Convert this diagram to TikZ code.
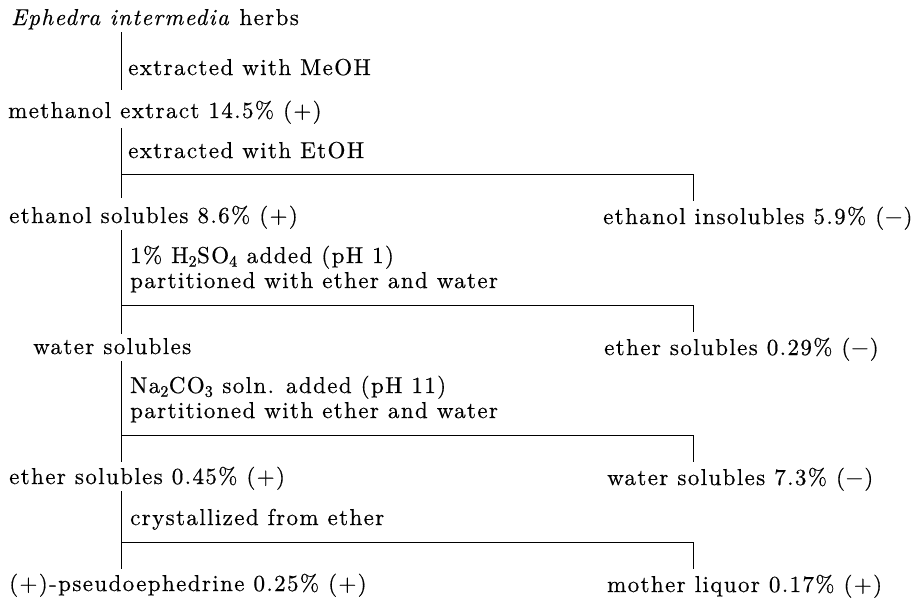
\documentclass[tikz,border=0pt]{standalone}
\usepackage{fontspec}
\setmainfont{lmroman10-regular.otf}[
  ItalicFont=lmroman10-italic.otf,
  BoldFont=lmroman10-bold.otf,
  LetterSpace=6,
  FakeBold=0.5]
\usetikzlibrary{calc}
\tikzset{
  lbl/.style={anchor=base west, inner sep=0pt, text=black,
    font=\fontsize{23}{25}\selectfont},
  conn/.style={draw=black, line width=0.9pt}
}
\begin{document}
\begin{tikzpicture}[x=1pt,y=-1pt]
\useasboundingbox[fill=white] (0,0) rectangle (913,598);
\coordinate (spine) at (121,0);
\coordinate (dropx) at (693,0);
% left column
\node[lbl] (herbs) at (11,25) {\textit{Ephedra intermedia} herbs};
\node[lbl] (meth) at (8,118) {methanol extract 14.5\% (+)};
\node[lbl] (etsol) at (9,223) {ethanol solubles 8.6\% (+)};
\node[lbl] (watsol) at (33,354) {water solubles};
\node[lbl] (ethsolA) at (9,484) {ether solubles 0.45\% (+)};
\node[lbl] (pseudo) at (9,591) {(+)-pseudoephedrine 0.25\% (+)};
% conditions
\node[lbl] (c1) at (128,75) {extracted with MeOH};
\node[lbl] (c2) at (128,158) {extracted with EtOH};
\node[lbl] (c3a) at (130,263) {1\% H\textsubscript{2}SO\textsubscript{4} added (pH 1)};
\node[lbl] (c3b) at (130,288) {partitioned with ether and water};
\node[lbl] (c4a) at (130,393) {Na\textsubscript{2}CO\textsubscript{3} soln. added (pH 11)};
\node[lbl] (c4b) at (130,418) {partitioned with ether and water};
\node[lbl] (c5) at (130,525) {crystallized from ether};
% right column
\node[lbl] (etins) at (603,224) {ethanol insolubles 5.9\% ($-$)};
\node[lbl] (ethsolB) at (604,355) {ether solubles 0.29\% ($-$)};
\node[lbl] (watsolB) at (607,485) {water solubles 7.3\% ($-$)};
\node[lbl] (mother) at (607,592) {mother liquor 0.17\% (+)};
% main spine
\draw[conn] ($(herbs.base -| spine)+(0,7)$) -- ($(meth.base -| spine)+(0,-28)$);
\draw[conn] ($(meth.base -| spine)+(0,10)$) -- ($(etsol.base -| spine)+(0,-25)$);
\draw[conn] ($(etsol.base -| spine)+(0,7)$) -- ($(watsol.base -| spine)+(0,-20)$);
\draw[conn] ($(watsol.base -| spine)+(0,7)$) -- ($(ethsolA.base -| spine)+(0,-22)$);
\draw[conn] ($(ethsolA.base -| spine)+(0,7)$) -- ($(pseudo.base -| spine)+(0,-22)$);
% branches
\foreach \n in {etins,ethsolB,watsolB,mother}{
  \path (\n.base) ++(0,-50) coordinate (b-\n);
  \draw[conn] (b-\n -| spine) -- (b-\n -| dropx) -- ($(\n.base -| dropx)+(0,-23)$);
}
\end{tikzpicture}
\end{document}
